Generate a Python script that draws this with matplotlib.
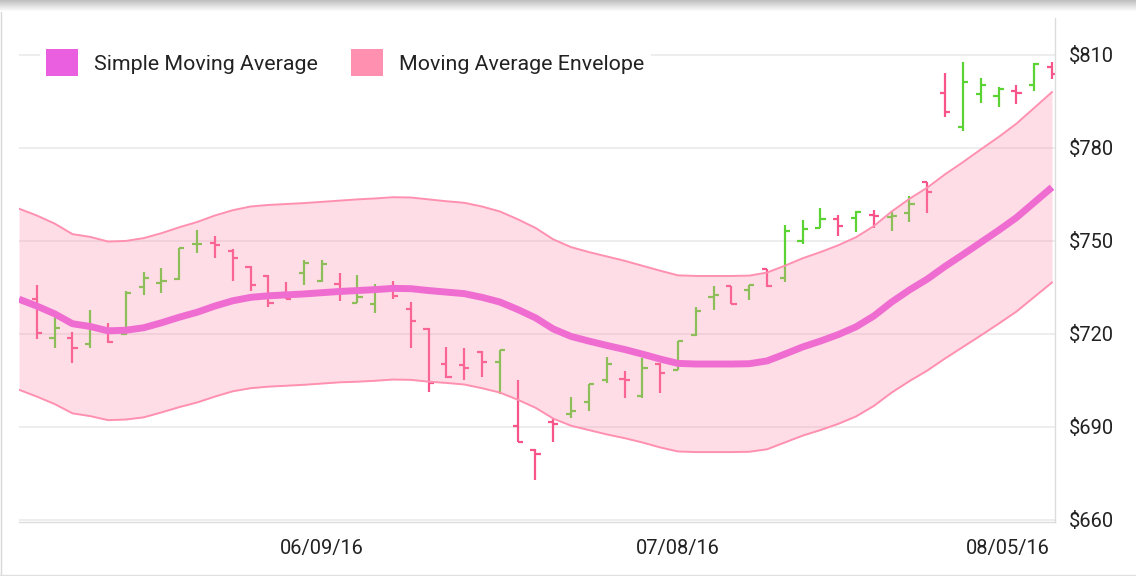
"""Moving average envelope over an HLOC bar chart (May - Aug 2016)."""
import matplotlib

matplotlib.use("Agg")
import matplotlib.pyplot as plt  # noqa: E402
import matplotlib.transforms as mtransforms  # noqa: E402
import numpy as np  # noqa: E402
import pandas as pd  # noqa: E402
from matplotlib.lines import Line2D  # noqa: E402
from matplotlib.patches import Patch  # noqa: E402

# trading days shown on the category axis (first day only carries the SMA)
DAYS = pd.bdate_range("2016-05-16", "2016-08-08", freq="C",
                      holidays=["2016-05-30", "2016-07-04"])

OPEN = [731.4, 718.8, 718.6, 716.6, 721.0, 720.0, 735.3, 736.3, 737.7, 748.9,
        749.3, 746.8, 741.6, 738.7, 733.3, 739.8, 737.2, 736.2, 730.1, 729.5,
        735.2, 728.2, 721.7, 710.4, 710.1, 714.3, 710.8, 690.3, 682.7, 691.6,
        694.3, 697.9, 705.3, 705.4, 700.1, 710.3, 708.5, 719.5, 732.0, 735.4,
        734.2, 741.0, 738.1, 750.1, 754.3, 757.2, 757.4, 758.4, 757.6, 759.0,
        769.0, 797.8, 786.9, 797.5, 796.6, 798.5, 800.4, 806.2]
HIGH = [735.8, 725.4, 720.5, 727.7, 723.4, 734.0, 739.9, 741.2, 747.8, 753.4,
        751.6, 747.4, 741.8, 738.9, 736.8, 743.9, 743.9, 739.7, 739.0, 736.1,
        737.1, 730.3, 721.8, 715.7, 715.4, 714.5, 714.8, 705.0, 683.0, 692.5,
        699.6, 703.8, 712.5, 708.0, 712.3, 710.5, 717.8, 728.8, 735.6, 735.5,
        735.9, 741.1, 755.2, 756.8, 760.5, 758.4, 759.5, 759.9, 759.3, 764.6,
        769.1, 804.1, 807.6, 802.5, 799.6, 800.4, 807.3, 807.6]
LOW = [718.3, 715.4, 710.5, 715.4, 717.2, 719.8, 732.7, 733.3, 737.5, 746.0,
       744.6, 737.2, 734.0, 728.6, 731.2, 735.9, 736.7, 730.7, 730.0, 726.7,
       731.4, 715.6, 701.4, 705.7, 705.0, 706.0, 700.6, 685.2, 672.8, 685.1,
       692.8, 695.0, 704.3, 699.2, 699.3, 700.9, 708.4, 719.4, 727.6, 729.6,
       730.9, 735.3, 736.7, 748.9, 754.1, 751.7, 753.0, 754.3, 753.2, 756.2,
       759.1, 790.1, 785.4, 794.6, 793.3, 794.3, 798.2, 802.2]
CLOSE = [720.4, 722.0, 715.6, 722.2, 717.5, 733.3, 738.1, 737.2, 747.7, 749.1,
         748.6, 744.6, 735.8, 730.1, 731.3, 743.0, 742.7, 733.2, 732.0, 733.8,
         732.4, 724.3, 704.3, 706.2, 709.0, 710.8, 714.7, 685.3, 681.3, 691.0,
         695.3, 703.7, 710.4, 705.1, 709.1, 707.5, 717.7, 727.5, 732.6, 729.7,
         735.8, 735.6, 753.3, 753.7, 757.2, 754.8, 759.4, 757.9, 758.2, 761.9,
         765.9, 791.7, 801.1, 800.4, 799.1, 797.6, 807.1, 804.0]

SMA = [731.2, 729.0, 726.5, 723.3, 722.4, 721.0, 721.2, 722.0, 723.6, 725.4,
       727.0, 729.0, 730.7, 731.8, 732.3, 732.6, 732.9, 733.3, 733.7, 734.0,
       734.3, 734.7, 734.6, 734.0, 733.5, 733.0, 731.8, 730.3, 727.9, 725.2,
       721.6, 719.2, 717.7, 716.3, 715.0, 713.5, 711.9, 710.5, 710.3, 710.3,
       710.3, 710.4, 711.3, 713.5, 715.8, 717.7, 719.8, 722.3, 725.8, 730.3,
       734.2, 737.7, 741.8, 745.6, 749.5, 753.4, 757.5, 762.4, 767.3]
ENV_UPPER = [760.4, 758.2, 755.6, 752.2, 751.3, 749.8, 750.0, 750.9, 752.5,
             754.4, 756.1, 758.2, 759.9, 761.1, 761.6, 761.9, 762.2, 762.6,
             763.0, 763.4, 763.7, 764.1, 764.0, 763.4, 762.8, 762.3, 761.1,
             759.5, 757.0, 754.2, 750.5, 748.0, 746.4, 745.0, 743.6, 742.0,
             740.4, 738.9, 738.7, 738.7, 738.7, 738.8, 739.8, 742.0, 744.4,
             746.4, 748.6, 751.2, 754.8, 759.5, 763.6, 767.2, 771.5, 775.4,
             779.5, 783.5, 787.8, 792.9, 798.0]
ENV_LOWER = [702.0, 699.8, 697.4, 694.4, 693.5, 692.2, 692.4, 693.1, 694.7,
             696.4, 697.9, 699.8, 701.5, 702.5, 703.0, 703.3, 703.6, 704.0,
             704.4, 704.6, 704.9, 705.3, 705.2, 704.6, 704.2, 703.7, 702.5,
             701.1, 698.8, 696.2, 692.7, 690.4, 689.0, 687.6, 686.4, 685.0,
             683.4, 682.1, 681.9, 681.9, 681.9, 682.0, 682.8, 685.0, 687.2,
             689.0, 691.0, 693.4, 696.8, 701.1, 704.8, 708.2, 712.1, 715.8,
             719.5, 723.3, 727.2, 731.9, 736.6]

TICK_DATES = ["2016-06-09", "2016-07-08", "2016-08-05"]
Y_TICKS = [660, 690, 720, 750, 780, 810]

UP = "#5cd335"
DOWN = "#f7548a"
SMA_COLOR = "#e95fe0"
ENV_COLOR = "#ff90b0"
GRID = "#ececec"
TEXT = "#222222"

plt.rcParams["font.family"] = ["Roboto", "DejaVu Sans"]

W, H = 1136, 576
fig = plt.figure(figsize=(W / 100, H / 100), dpi=100)
ax = fig.add_axes([19 / W, 1 - 522 / H, (1055 - 19) / W, (522 - 18) / H])

pos = np.arange(len(DAYS))
bar_x = pos[1:]
o, hi, lo, c = map(np.array, (OPEN, HIGH, LOW, CLOSE))
colors = np.where(c >= o, UP, DOWN)
tick = 0.29

ax.vlines(bar_x, lo, hi, colors=colors, linewidth=1.6, zorder=2)
ax.hlines(o, bar_x - tick, bar_x, colors=colors, linewidth=1.6, zorder=2)
ax.hlines(c, bar_x, bar_x + tick, colors=colors, linewidth=1.6, zorder=2)

ax.plot(pos, SMA, color=SMA_COLOR, linewidth=5, solid_capstyle="butt",
        zorder=3)
ax.fill_between(pos, ENV_LOWER, ENV_UPPER, color=ENV_COLOR, alpha=0.3,
                linewidth=0, zorder=4)
ax.plot(pos, ENV_UPPER, color=ENV_COLOR, linewidth=1.4, zorder=5)
ax.plot(pos, ENV_LOWER, color=ENV_COLOR, linewidth=1.4, zorder=5)

ax.set_xlim(0, 58.17)
ax.set_ylim(659.35, 821.9)

for v in Y_TICKS:
    ax.axhline(v, color=GRID, linewidth=1.3, zorder=0)

ax.yaxis.tick_right()
ax.set_yticks(Y_TICKS)
ax.set_yticklabels([f"${v}" for v in Y_TICKS])
ax.tick_params(axis="y", length=0, pad=10, labelsize=14.4, labelcolor=TEXT)

tick_pos = [DAYS.get_loc(pd.Timestamp(d)) for d in TICK_DATES]
ax.set_xticks(tick_pos)
ax.set_xticklabels([pd.Timestamp(d).strftime("%m/%d/%y") for d in TICK_DATES])
ax.tick_params(axis="x", length=0, pad=12, labelsize=14.4, labelcolor=TEXT)
# last label is pushed left so it stays inside the plot
last = ax.get_xticklabels()[-1]
last.set_transform(last.get_transform() + mtransforms.ScaledTranslation(
    -0.26, 0, fig.dpi_scale_trans))

for side in ("top", "left"):
    ax.spines[side].set_visible(False)
ax.spines["right"].set_color("#dcdcdc")
ax.spines["bottom"].set_color("#dcdcdc")
ax.spines["right"].set_linewidth(1.0)
ax.spines["bottom"].set_linewidth(1.0)

handles = [Patch(facecolor=SMA_COLOR, edgecolor="none"),
           Patch(facecolor=ENV_COLOR, edgecolor="none")]
leg = ax.legend(handles, ["Simple Moving Average", "Moving Average Envelope"],
                ncol=2, loc="center left", fontsize=15.4,
                bbox_to_anchor=(40 / W, 1 - 62.5 / H),
                bbox_transform=fig.transFigure, frameon=True, fancybox=False,
                framealpha=1, edgecolor="none", facecolor="white",
                handlelength=1.5, handleheight=1.5, handletextpad=0.75,
                columnspacing=1.55, borderpad=0.28, borderaxespad=0)
leg.set_zorder(10)
for t in leg.get_texts():
    t.set_color(TEXT)

# screenshot frame: soft shadow on top, hairlines left and bottom
shade = np.linspace(0.62, 1.0, 12) ** 0.6
top = np.repeat(shade[:, None], W, axis=1)
fig.figimage(np.dstack([top] * 3), xo=0, yo=H - 12, origin="upper", zorder=20)
fig.add_artist(Line2D([0.5 / W, 0.5 / W], [0, 1], color="#d8d8d8",
                      linewidth=1, transform=fig.transFigure))
fig.add_artist(Line2D([0, 1], [1.5 / H, 1.5 / H], color="#e0e0e0",
                      linewidth=1, transform=fig.transFigure))

fig.savefig("out.png", dpi=100)
